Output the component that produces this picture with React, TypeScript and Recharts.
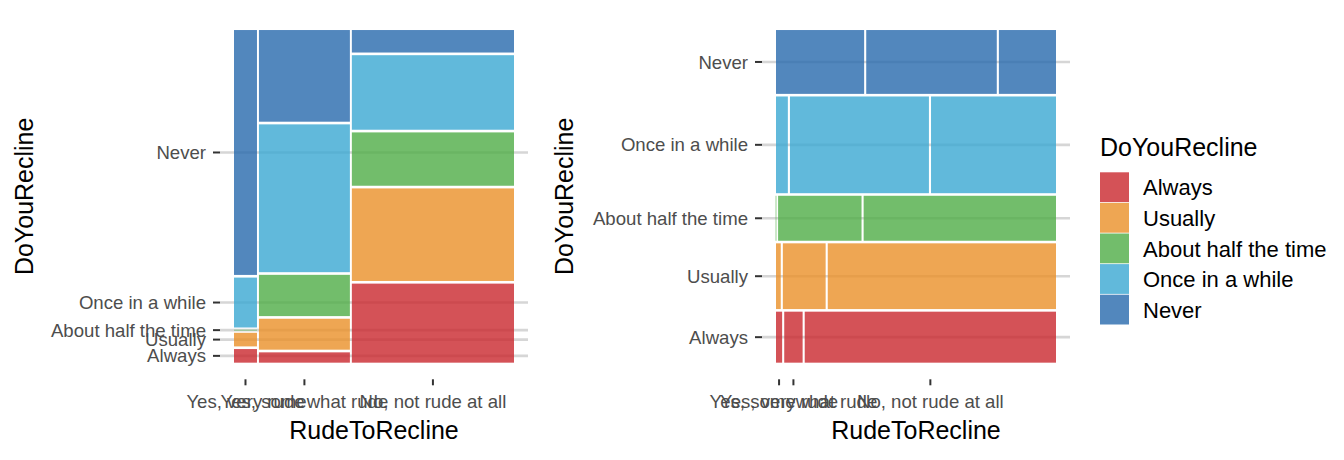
import React from "react";
import {
  ComposedChart,
  XAxis,
  YAxis,
  CartesianGrid,
  ReferenceArea,
  Scatter,
  Label,
} from "recharts";

const FONT = '"Liberation Sans", Arial, Helvetica, sans-serif';
const TICK_COLOR = "#4d4d4d";
const GRID_COLOR = "#d6d6d6";
const TILE_ALPHA = 0.8;

const reclineLevels = ["Always", "Usually", "About half the time", "Once in a while", "Never"];
const rudeLevels = ["Yes, very rude", "Yes, somewhat rude", "No, not rude at all"];

// respondents per DoYouRecline answer, split by RudeToRecline (rudeLevels order)
const alwaysCounts = [3, 9, 123];
const usuallyCounts = [3, 27, 144];
const aboutHalfCounts = [0, 36, 83];
const onceCounts = [11, 129, 116];
const neverCounts = [54, 80, 35];

const reclineColors = ["#C9272D", "#EA9028", "#4FAD46", "#3AA8D2", "#2769AC"];

const counts = [alwaysCounts, usuallyCounts, aboutHalfCounts, onceCounts, neverCounts];

type Span = [number, number];
type Tile = { x1: number; x2: number; y1: number; y2: number; r: number; c: number };

const sum = (v: number[]) => v.reduce((a, b) => a + b, 0);
const mid = ([a, b]: Span) => (a + b) / 2;

// divide [0,1] proportionally, leaving a small gap between pieces (like ggmosaic)
function split(values: number[], gap: number): Span[] {
  const total = sum(values);
  const avail = 1 - gap * (values.length - 1);
  let pos = 0;
  return values.map((v) => {
    const start = pos;
    const end = start + (v / total) * avail;
    pos = end + gap;
    return [start, end] as Span;
  });
}

// left: columns = RudeToRecline, stacked by DoYouRecline
const colTotals = rudeLevels.map((_, c) => sum(counts.map((row) => row[c])));
const leftCols = split(colTotals, 0.007);
const leftTiles: Tile[] = rudeLevels.flatMap((_, c) => {
  const ys = split(counts.map((row) => row[c]), 0.008);
  return reclineLevels.map((_, r) => ({ x1: leftCols[c][0], x2: leftCols[c][1], y1: ys[r][0], y2: ys[r][1], r, c }));
});
const leftXTicks = leftCols.map(mid);
const leftYTicks = split(counts.map((row) => row[0]), 0.008).map(mid);

// right: rows = DoYouRecline, split by RudeToRecline
const rightRows = split(counts.map(sum), 0.0078);
const rightTiles: Tile[] = reclineLevels.flatMap((_, r) => {
  const xs = split(counts[r], 0.0075);
  return rudeLevels.map((_, c) => ({ x1: xs[c][0], x2: xs[c][1], y1: rightRows[r][0], y2: rightRows[r][1], r, c }));
});
const rightXTicks = split(counts[0], 0.0075).map(mid);
const rightYTicks = rightRows.map(mid);

const tileShape = (fill: string) => (p: any) => {
  const w = Math.max(p.width, 0.7);
  const h = Math.max(p.height, 0.7);
  return (
    <rect
      x={p.x + (p.width - w) / 2}
      y={p.y + (p.height - h) / 2}
      width={w}
      height={h}
      fill={fill}
      fillOpacity={TILE_ALPHA}
    />
  );
};

const xTick = (labels: string[], ticks: number[]) => (p: any) => (
  <text
    x={p.x}
    y={p.y}
    dy="0.71em"
    textAnchor="middle"
    fill={TICK_COLOR}
    fontSize={18.6}
    fontFamily={FONT}
  >
    {labels[ticks.indexOf(p.payload.value)]}
  </text>
);

const yTick = (labels: string[], ticks: number[]) => (p: any) => (
  <text
    x={p.x}
    y={p.y}
    dy="0.355em"
    textAnchor="end"
    fill={TICK_COLOR}
    fontSize={18.6}
    fontFamily={FONT}
  >
    {labels[ticks.indexOf(p.payload.value)]}
  </text>
);

const xTitle = (text: string) => (p: any) => {
  const vb = p.viewBox || {};
  return (
    <text x={vb.x + vb.width / 2} y={vb.y + 59.7} textAnchor="middle" fontSize={25} fontFamily={FONT} fill="#000">
      {text}
    </text>
  );
};

const yTitle = (text: string) => (p: any) => {
  const vb = p.viewBox || {};
  const x = vb.x + 13.5;
  const y = vb.y + vb.height / 2;
  return (
    <text x={x} y={y} transform={`rotate(-90 ${x} ${y})`} textAnchor="middle" fontSize={25} fontFamily={FONT} fill="#000">
      {text}
    </text>
  );
};

interface MosaicProps {
  tiles: Tile[];
  xTicks: number[];
  yTicks: number[];
  width: number;
  rightMargin: number;
  yAxisWidth: number;
}

function Mosaic({ tiles, xTicks, yTicks, width, rightMargin, yAxisWidth }: MosaicProps) {
  const centers = tiles.map((t) => ({ x: (t.x1 + t.x2) / 2, y: (t.y1 + t.y2) / 2 }));
  return (
    <ComposedChart
      width={width}
      height={460}
      data={centers}
      margin={{ top: 13.4, right: rightMargin, bottom: 0, left: 20 }}
    >
      <CartesianGrid vertical={false} horizontalValues={yTicks} stroke={GRID_COLOR} strokeWidth={2.6} />
      <XAxis
        type="number"
        dataKey="x"
        domain={[-0.05, 1.05]}
        allowDataOverflow
        ticks={xTicks}
        interval={0}
        height={80.7}
        tickSize={6}
        tickMargin={9}
        axisLine={false}
        tickLine={{ stroke: "#333333", strokeWidth: 2 }}
        tick={xTick(rudeLevels, xTicks)}
      >
        <Label content={xTitle("RudeToRecline")} />
      </XAxis>
      <YAxis
        type="number"
        dataKey="y"
        domain={[-0.05, 1.05]}
        allowDataOverflow
        ticks={yTicks}
        interval={0}
        width={yAxisWidth}
        tickSize={7}
        tickMargin={7}
        axisLine={false}
        tickLine={{ stroke: "#333333", strokeWidth: 2 }}
        tick={yTick(reclineLevels, yTicks)}
      >
        <Label content={yTitle("DoYouRecline")} />
      </YAxis>
      {tiles.map((t) => (
        <ReferenceArea
          key={`${t.r}-${t.c}`}
          x1={t.x1}
          x2={t.x2}
          y1={t.y1}
          y2={t.y2}
          ifOverflow="visible"
          shape={tileShape(reclineColors[t.r])}
        />
      ))}
      <Scatter dataKey="y" isAnimationActive={false} shape={() => <g />} legendType="none" />
    </ComposedChart>
  );
}

function MosaicLegend() {
  const top = 52.3;
  const step = 30.6;
  return (
    <svg width={259} height={220} style={{ position: "absolute", left: 1085, top: 120 }}>
      <text x={15} y={36} fontSize={25} fontFamily={FONT} fill="#000">
        DoYouRecline
      </text>
      {reclineLevels.map((lv, i) => (
        <g key={lv}>
          <rect x={15} y={top + i * step} width={29} height={step - 0.8} fill={reclineColors[i]} fillOpacity={TILE_ALPHA} />
          <text x={58} y={top + i * step + step / 2} dy="0.355em" fontSize={22} fontFamily={FONT} fill="#000">
            {lv}
          </text>
        </g>
      ))}
    </svg>
  );
}

export default function App() {
  return (
    <div style={{ position: "absolute", left: 0, top: 0, width: 1344, height: 460, background: "#fff" }}>
      <div style={{ position: "absolute", left: 0, top: 0 }}>
        <Mosaic tiles={leftTiles} xTicks={leftXTicks} yTicks={leftYTicks} width={540} rightMargin={12} yAxisWidth={200} />
      </div>
      <div style={{ position: "absolute", left: 540, top: 0 }}>
        <Mosaic tiles={rightTiles} xTicks={rightXTicks} yTicks={rightYTicks} width={545} rightMargin={15} yAxisWidth={202} />
      </div>
      <MosaicLegend />
    </div>
  );
}
